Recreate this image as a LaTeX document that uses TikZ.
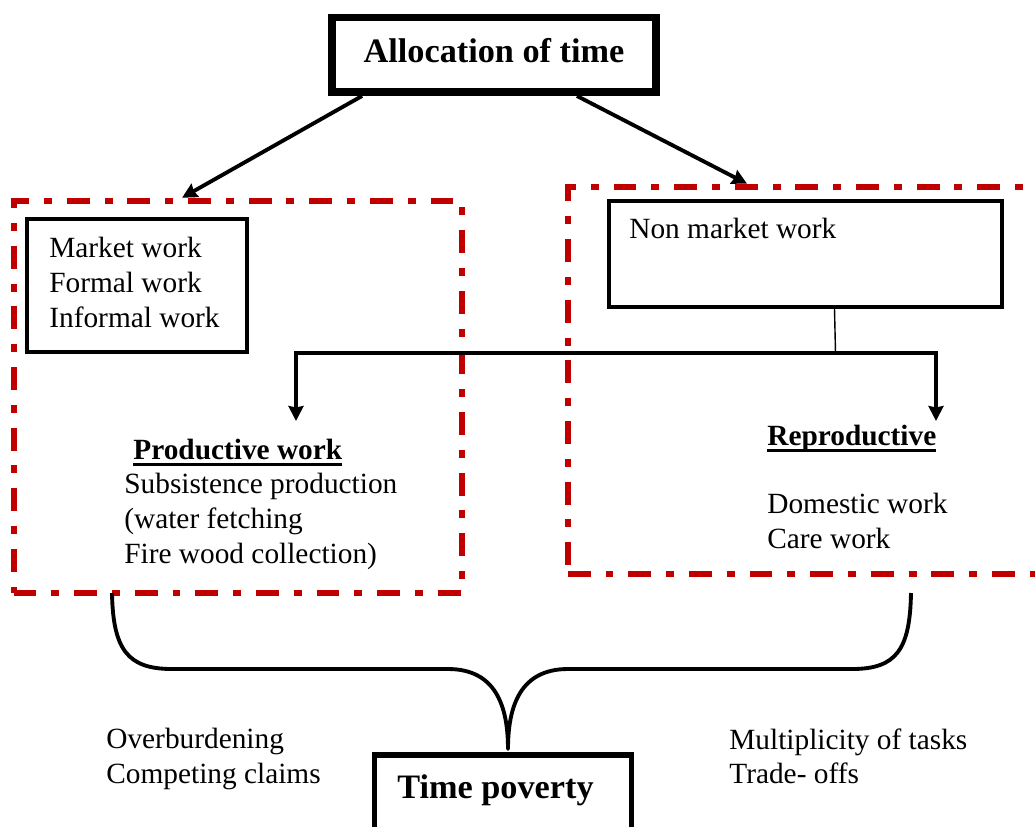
\documentclass[tikz,border=0pt]{standalone}
\usepackage{fontspec}
\setmainfont{Liberation Serif}
\usepackage{tikz}
\usetikzlibrary{arrows.meta,calc}
\definecolor{framered}{RGB}{192,0,0}
\newsavebox\hdbox
\newcommand{\ulhead}[1]{\sbox\hdbox{#1}\rlap{\rule[-4.2pt]{\wd\hdbox}{1.7pt}}\usebox\hdbox}

\begin{document}
\begin{tikzpicture}[x=0.02cm,y=-0.02cm,->,>={Stealth[length=8.5pt,width=8.5pt,inset=0.8pt]},
    txt/.style={inner sep=0pt,align=left,font=\fontsize{16.7}{19.8}\selectfont},
    head/.style={inner sep=0pt,font=\fontsize{16.7}{19.8}\selectfont\bfseries},
    title/.style={inner sep=0pt,font=\fontsize{19.5}{23}\selectfont\bfseries},
    topbox/.style={draw,line width=4.5pt,inner sep=0pt},
    wbox/.style={draw,line width=2.3pt,inner sep=0pt},
    frame/.style={draw=framered,line width=3.4pt,inner sep=0pt,
      dash pattern=on 13pt off 8.5pt on 4.5pt off 8.5pt},
    arr/.style={->,line width=2.2pt},
    brace/.style={-,line width=2.2pt,line join=round}]
  \useasboundingbox (0,0) rectangle (1035,826);
  \clip (0,0) rectangle (1035,826);

  \node[topbox,title,minimum width=6.48cm,minimum height=1.49cm,text depth=4.5pt]
        (alloc) at (494,54.75) {Allocation of time};

  \node[frame,minimum width=8.964cm,minimum height=7.846cm] (lframe) at (237.6,396.85) {};
  \node[frame,minimum width=9.546cm,minimum height=7.746cm] (rframe) at (806.35,380.35) {};

  \node[wbox,minimum width=4.4cm,minimum height=2.66cm]   (mkt)    at (137,285.5) {};
  \node[wbox,minimum width=7.86cm,minimum height=2.12cm]  (nonmkt) at (805.5,253.7) {};
  \node[txt,anchor=north west] (mkttxt) at (49,237) {Market work\\Formal work\\Informal work};
  \node[txt,anchor=base west]  (nonmkttxt) at (629,238) {Non market work};

  \node[head,anchor=base west] (prodhead) at (133,459) {\ulhead{Productive work}};
  \node[txt,anchor=north west] (prodtxt) at (124,473)
        {Subsistence production\\(water fetching\\Fire wood collection)};
  \node[head,anchor=base west] (reprohead) at (767,445) {\ulhead{Reproductive}};
  \node[txt,anchor=north west] (reprotxt) at (767,493) {Domestic work\\Care work};

  \node[wbox,line width=3.1pt,minimum width=5.14cm,minimum height=2.5cm] (tp) at (503,817.5) {};
  \node[title,anchor=base west] (tptxt) at (397,798) {Time poverty};
  \node[txt,anchor=north west] (lefttxt)  at (106,728) {Overburdening\\Competing claims};
  \node[txt,anchor=north west] (righttxt) at (729,728) {Multiplicity of tasks\\Trade- offs};

  \draw[arr] ($(alloc.south west)+(34,0)$) -- ($(lframe.north west)+(171.5,0)$);
  \draw[arr] ($(alloc.south east)+(-83,0)$) -- ($(rframe.north west)+(182.3,0)$);

  \coordinate (ptip) at (296,421);
  \coordinate (rtip) at (936,421);
  \draw[-,line width=0.8pt] ($(nonmkt.south)+(29,0)$) -- ++(1,44) coordinate (split);
  \draw[arr] (split) -| (ptip);
  \draw[arr] (split) -| (rtip);

  \coordinate (bl) at (112,593);
  \coordinate (br) at (911,593);
  \coordinate (cusp) at (508,749);
  \draw[brace] (bl) .. controls (113,650) and (128,669) .. (172,669) -- (448,669)
        .. controls (495,669) and (508,705) .. (cusp)
        .. controls (508,705) and (521,669) .. (568,669) -- (852,669)
        .. controls (896,669) and (910,650) .. (br);
\end{tikzpicture}
\end{document}
